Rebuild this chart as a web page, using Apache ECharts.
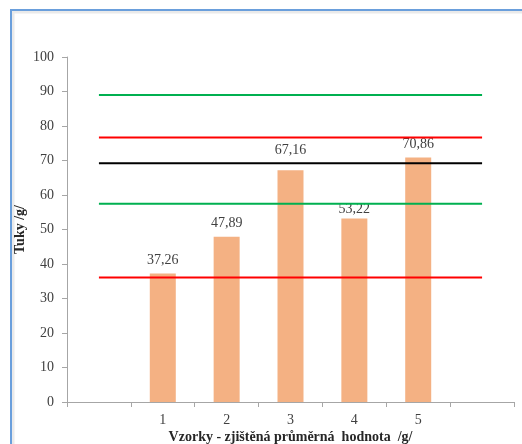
<!DOCTYPE html>
<html>
<head>
<meta charset="utf-8">
<script src="https://cdn.jsdelivr.net/npm/echarts@6/dist/echarts.min.js"></script>
<style>
  html, body { margin: 0; padding: 0; background: #ffffff; }
  #chart { width: 522px; height: 444px; }
</style>
</head>
<body>
<div id="chart"></div>
<script>
// Samples on the x axis; the empty slots at both ends leave room for the limit lines
const categories = ['', '1', '2', '3', '4', '5', ''];
// Measured average fat content per sample (g)
const sampleValues = [null, 37.26, 47.89, 67.16, 53.22, 70.86, null];
// Horizontal reference levels (g)
const upperGreen = 89.0;
const upperRed = 76.7;
const reference = 69.2;
const lowerGreen = 57.5;
const lowerRed = 36.1;
const yTicks = { min: 0, max: 100, interval: 10 };

const serif = '"Liberation Serif", "Times New Roman", serif';

// Vertical nudges (px) that keep value labels clear of the reference lines
const labelNudge = { 3: -7, 4: 4 };

function flatLine(value, color) {
  return {
    type: 'line',
    data: categories.map(() => value),
    symbol: 'none',
    lineStyle: { color: color, width: 2 },
    itemStyle: { color: color },
    silent: true,
    z: 3
  };
}

const barData = sampleValues.map((v, i) =>
  labelNudge[i] !== undefined
    ? { value: v, label: { offset: [0, labelNudge[i]] } }
    : v
);

const chart = echarts.init(document.getElementById('chart'), null, { renderer: 'canvas' });

chart.setOption({
  backgroundColor: '#ffffff',
  animation: false,
  grid: { left: 67, right: 8, top: 57, bottom: 42, containLabel: false, outerBoundsMode: 'none' },
  graphic: [
    {
      type: 'rect',
      shape: { x: 13, y: 12, width: 560, height: 500 },
      style: { fill: 'none', stroke: '#eaeaea', lineWidth: 3 },
      z: 0
    },
    {
      type: 'rect',
      shape: { x: 11, y: 10, width: 560, height: 500 },
      style: { fill: 'none', stroke: '#6a9fdc', lineWidth: 2 },
      z: 1
    }
  ],
  xAxis: {
    type: 'category',
    data: categories,
    boundaryGap: true,
    name: 'Vzorky - zjištěná průměrná  hodnota  /g/',
    nameLocation: 'middle',
    nameGap: 28,
    nameMoveOverlap: false,
    nameTextStyle: { fontFamily: serif, fontSize: 14, fontWeight: 'bold', color: '#262626' },
    axisLine: { lineStyle: { color: '#a6a6a6', width: 1 } },
    axisTick: { show: true, length: 5, lineStyle: { color: '#a6a6a6' } },
    axisLabel: { fontFamily: serif, fontSize: 14, color: '#404040', margin: 11 },
    splitLine: { show: false }
  },
  yAxis: {
    type: 'value',
    min: yTicks.min,
    max: yTicks.max,
    interval: yTicks.interval,
    name: 'Tuky /g/',
    nameLocation: 'middle',
    nameGap: 40,
    nameMoveOverlap: false,
    nameRotate: 90,
    nameTextStyle: { fontFamily: serif, fontSize: 14, fontWeight: 'bold', color: '#262626' },
    axisLine: { show: true, lineStyle: { color: '#a6a6a6', width: 1 } },
    axisTick: { show: true, length: 5, lineStyle: { color: '#a6a6a6' } },
    axisLabel: { fontFamily: serif, fontSize: 14, color: '#404040', margin: 13 },
    splitLine: { show: false }
  },
  series: [
    {
      type: 'bar',
      data: barData,
      barWidth: 26,
      itemStyle: { color: '#f4b183' },
      label: {
        show: true,
        position: 'top',
        distance: 6,
        fontFamily: serif,
        fontSize: 14,
        color: '#404040',
        formatter: p => p.value.toFixed(2).replace('.', ',')
      },
      z: 2
    },
    flatLine(upperGreen, '#00b050'),
    flatLine(upperRed, '#ff0000'),
    flatLine(reference, '#000000'),
    flatLine(lowerGreen, '#00b050'),
    flatLine(lowerRed, '#ff0000')
  ]
});
</script>
</body>
</html>
